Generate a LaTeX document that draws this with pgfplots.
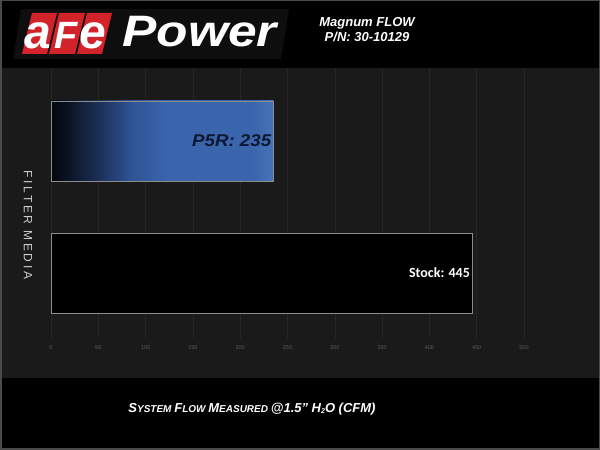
\documentclass[border=0pt]{standalone}
\usepackage{pgfplots}
\pgfplotsset{compat=1.18}
\usepackage{fontspec}
\setmainfont{Liberation Sans}
\newfontfamily\carlito{Carlito}
\newfontfamily\spaced[LetterSpace=22]{Liberation Sans}
\definecolor{plotbg}{HTML}{1A1A1A}
\definecolor{gridc}{HTML}{262626}
\definecolor{baredge}{HTML}{8C8C8C}
\definecolor{afered}{HTML}{D2232A}
\definecolor{navytext}{HTML}{0C1832}
\definecolor{tickc}{HTML}{5A5A5A}
\definecolor{framec}{HTML}{4A4A4A}
\definecolor{logobg}{HTML}{0E0E0E}
\definecolor{sA}{HTML}{03060C}
\definecolor{sB}{HTML}{0B1424}
\definecolor{sC}{HTML}{1C3159}
\definecolor{sD}{HTML}{2F5395}
\definecolor{sE}{HTML}{3A64AC}
\definecolor{sF}{HTML}{4673B8}
\pgfdeclarehorizontalshading{psrshade}{100bp}{color(0bp)=(sA); color(25bp)=(sA); color(29bp)=(sB); color(36bp)=(sC); color(43bp)=(sD); color(51bp)=(sE); color(70bp)=(sE); color(75bp)=(sF); color(100bp)=(sF)}
\newcommand{\fsc}[2]{{\fontsize{13}{13}\selectfont #1}{\fontsize{10}{10}\selectfont #2}}
\begin{document}
\begin{tikzpicture}[x=1pt,y=1pt]
\path[use as bounding box] (0,0) rectangle (600,450);
\fill[black] (0,0) rectangle (600,450);
\fill[plotbg] (1.5,72) rectangle (598.5,382);
\draw[framec, line width=1.5pt] (0.75,0.75) rectangle (599.25,449.25);
% logo
\fill[logobg] (13,391) -- (281,391) -- (289,441) -- (21,441) -- cycle;
\fill[afered] (22,396) -- (47,396) -- (57,437) -- (32,437) -- cycle;
\fill[afered] (49,396) -- (75,396) -- (85,437) -- (59,437) -- cycle;
\fill[afered] (77,396) -- (102,396) -- (112,437) -- (87,437) -- cycle;
\node[anchor=base, text=white, inner sep=0pt] at (38,401) {\fontsize{48}{48}\selectfont\bfseries\itshape a};
\node[anchor=base, text=white, inner sep=0pt] at (66,401) {\fontsize{38}{38}\selectfont\bfseries\itshape F};
\node[anchor=base, text=white, inner sep=0pt] at (93,401) {\fontsize{48}{48}\selectfont\bfseries\itshape e};
\node[anchor=base west, text=white, inner sep=0pt, xscale=1.17] at (122,403) {\fontsize{44}{44}\selectfont\bfseries\itshape Power};
% title
\node[text=white, align=center, inner sep=0pt, font=\fontsize{13}{15}\selectfont\bfseries\itshape] at (367,420) {Magnum FLOW\\P/N: 30-10129};
% y label
\node[text=white!80!black, rotate=-90, inner sep=0pt] at (28,225) {\spaced\fontsize{12}{12}\selectfont FILTER MEDIA};
% x label
\node[text=white, inner sep=0pt, font=\bfseries\itshape] at (252,41) {\fsc{S}{YSTEM} \fsc{F}{LOW} \fsc{M}{EASURED} {\fontsize{13}{13}\selectfont @1.5" H\raisebox{-1pt}{\fontsize{7}{7}\selectfont 2}O (CFM)}};
\begin{axis}[
 at={(51pt,112pt)}, anchor=south west,
 scale only axis, width=473pt, height=270pt,
 xmin=0, xmax=500, ymin=-0.4924, ymax=1.553,
 axis line style={draw=none},
 xtick={0,50,...,500}, ytick=\empty,
 major tick length=0pt,
 xmajorgrids, grid style={gridc, line width=0.6pt},
 tick label style={font=\fontsize{5.5}{6}\selectfont, text=tickc},
 xticklabel style={yshift=-4pt},
 /pgf/number format/assume math mode=true,
 clip=false,
]
\addplot[xbar, bar width=80pt, bar shift=0pt, draw=baredge, line width=0.8pt, shading=psrshade] coordinates {(235,1)};
\addplot[xbar, bar width=80pt, bar shift=0pt, draw=baredge, line width=0.8pt, fill=black] coordinates {(445,0)};
\node[anchor=east, text=navytext, inner sep=0pt, xscale=1.1, font=\fontsize{17}{17}\selectfont\bfseries\itshape] at (axis cs:233,1) {P5R: 235};
\node[anchor=east, text=white, inner sep=0pt, font=\carlito\fontsize{14}{14}\selectfont\bfseries] at (axis cs:443,0) {Stock: 445};
\end{axis}
\end{tikzpicture}
\end{document}
